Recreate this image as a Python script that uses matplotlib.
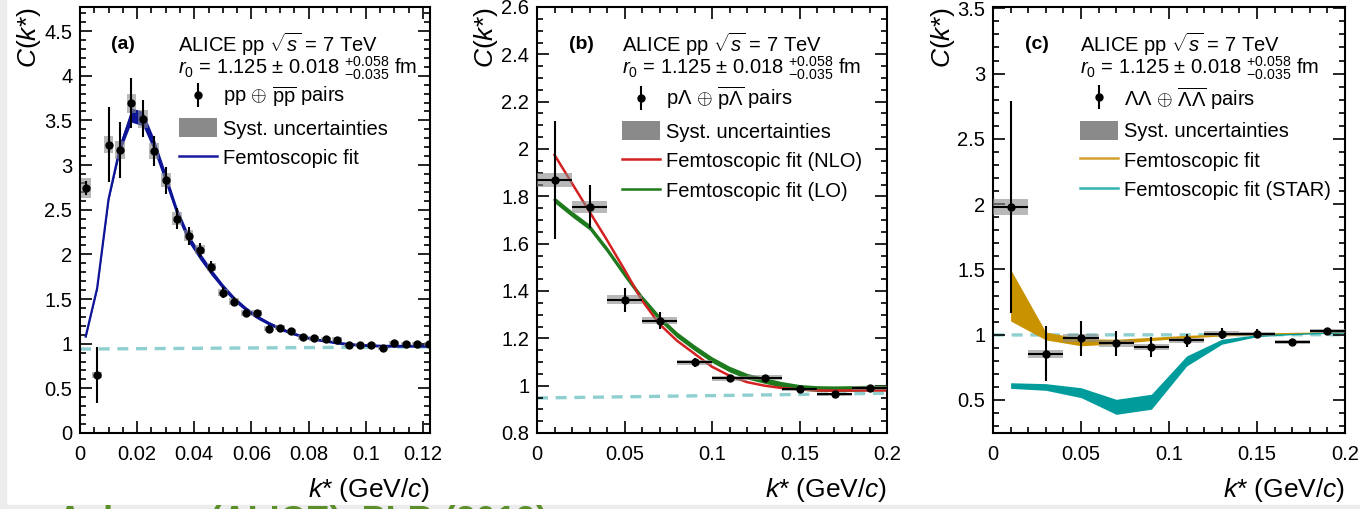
import matplotlib
matplotlib.use('Agg')
import matplotlib.pyplot as plt
from matplotlib.lines import Line2D
from matplotlib.patches import Patch, Rectangle
from matplotlib.legend_handler import HandlerTuple
from matplotlib.ticker import MultipleLocator

plt.rcParams['font.family'] = ['Liberation Sans', 'DejaVu Sans']
plt.rcParams['mathtext.fontset'] = 'custom'
plt.rcParams['mathtext.rm'] = 'Liberation Sans'
plt.rcParams['mathtext.it'] = 'Liberation Sans:italic'
plt.rcParams['mathtext.bf'] = 'Liberation Sans:bold'

# ---- p-p correlation function ----
k_pp = [0.002, 0.006, 0.010, 0.014, 0.018, 0.022, 0.026, 0.030, 0.034, 0.038,
        0.042, 0.046, 0.050, 0.054, 0.058, 0.062, 0.066, 0.070, 0.074, 0.078,
        0.082, 0.086, 0.090, 0.094, 0.098, 0.102, 0.106, 0.110, 0.114, 0.118, 0.122]
c_pp = [2.74, 0.65, 3.23, 3.17, 3.69, 3.52, 3.16, 2.83, 2.40, 2.21,
        2.05, 1.86, 1.57, 1.47, 1.34, 1.34, 1.17, 1.18, 1.14, 1.07,
        1.06, 1.055, 1.045, 0.98, 0.98, 0.99, 0.95, 1.005, 1.0, 0.995, 0.995]
stat_pp = [0.08, 0.31, 0.42, 0.31, 0.28, 0.21, 0.17, 0.15, 0.12, 0.10,
           0.08, 0.07, 0.06, 0.05, 0.045, 0.04, 0.035, 0.03, 0.03, 0.025,
           0.025, 0.02, 0.02, 0.02, 0.02, 0.02, 0.02, 0.02, 0.02, 0.02, 0.02]
syst_pp = [0.11, 0.03, 0.10, 0.10, 0.11, 0.10, 0.09, 0.08, 0.07, 0.06,
           0.05, 0.045, 0.04, 0.04, 0.035, 0.035, 0.03, 0.03, 0.03, 0.025,
           0.025, 0.025, 0.025, 0.02, 0.02, 0.02, 0.02, 0.02, 0.02, 0.02, 0.02]
fit_pp = [1.08, 1.62, 2.62, 3.20, 3.56, 3.52, 3.22, 2.85, 2.47, 2.18,
          1.98, 1.80, 1.64, 1.50, 1.39, 1.30, 1.23, 1.17, 1.12, 1.08,
          1.05, 1.03, 1.01, 0.995, 0.985, 0.98, 0.975, 0.975, 0.975, 0.975, 0.975]
fit_pp_w = [0.012, 0.012, 0.02, 0.05, 0.08, 0.08, 0.07, 0.06, 0.05, 0.045,
            0.04, 0.035, 0.03, 0.028, 0.025, 0.022, 0.02, 0.018, 0.016, 0.015,
            0.014, 0.014, 0.014, 0.014, 0.014, 0.014, 0.014, 0.014, 0.014, 0.014, 0.014]
base_pp_k = [0.0, 0.1225]
base_pp = [0.94, 0.965]

# ---- p-Lambda correlation function ----
k_pl = [0.01, 0.03, 0.05, 0.07, 0.09, 0.11, 0.13, 0.15, 0.17, 0.19]
c_pl = [1.87, 1.756, 1.363, 1.275, 1.098, 1.031, 1.034, 0.984, 0.963, 0.991]
stat_pl = [0.25, 0.09, 0.05, 0.035, 0.02, 0.015, 0.012, 0.01, 0.01, 0.01]
syst_pl = [0.03, 0.025, 0.02, 0.015, 0.012, 0.01, 0.01, 0.008, 0.008, 0.008]
k_pl_fit = [0.01, 0.02, 0.03, 0.04, 0.05, 0.06, 0.07, 0.08, 0.09, 0.10,
            0.11, 0.12, 0.13, 0.14, 0.15, 0.16, 0.17, 0.18, 0.19, 0.20]
nlo_pl = [1.975, 1.855, 1.735, 1.615, 1.49, 1.36, 1.26, 1.19, 1.135, 1.08,
          1.042, 1.015, 1.0, 0.99, 0.984, 0.98, 0.979, 0.98, 0.98, 0.98]
lo_pl = [1.785, 1.725, 1.67, 1.575, 1.47, 1.37, 1.285, 1.215, 1.16, 1.11,
         1.07, 1.04, 1.022, 1.005, 0.993, 0.988, 0.987, 0.988, 0.99, 0.99]
base_pl_k = [0.0, 0.2]
base_pl = [0.948, 0.968]

# ---- Lambda-Lambda correlation function ----
k_ll = [0.01, 0.03, 0.05, 0.07, 0.09, 0.11, 0.13, 0.15, 0.17, 0.19]
c_ll = [1.978, 0.855, 0.972, 0.934, 0.906, 0.957, 1.008, 1.008, 0.944, 1.028]
stat_ll = [0.81, 0.21, 0.135, 0.095, 0.075, 0.05, 0.04, 0.035, 0.025, 0.025]
syst_ll = [0.06, 0.03, 0.03, 0.025, 0.02, 0.02, 0.02, 0.015, 0.015, 0.015]
k_ll_fit = [0.01, 0.03, 0.05, 0.07, 0.09, 0.11, 0.13, 0.15, 0.17, 0.19, 0.20]
fit_ll_lo = [1.105, 0.96, 0.915, 0.93, 0.955, 0.975, 0.99, 0.998, 1.005, 1.012, 1.014]
fit_ll_hi = [1.50, 1.02, 0.97, 0.965, 0.98, 0.995, 1.005, 1.012, 1.018, 1.022, 1.024]
star_ll_lo = [0.589, 0.574, 0.518, 0.39, 0.429, 0.76, 0.927, 0.985, 1.0, 1.01, 1.012]
star_ll_hi = [0.632, 0.625, 0.594, 0.505, 0.544, 0.837, 0.965, 1.0, 1.01, 1.02, 1.022]
base_ll_k = [0.0, 0.2]
base_ll = [0.998, 1.0]

SYST_COLOR = '#8a8a8a'
BASE_COLOR = '#8fcfcf'
FS_TICK = 14.5
FS_LEG = 14.5
FS_TITLE = 19

W, H = 1360, 509
fig = plt.figure(figsize=(W / 100, H / 100), dpi=100)
fig.patch.set_facecolor('white')

# light grey page border on the left and bottom
fig.patches.append(Rectangle((0, 0), 6 / W, 1, transform=fig.transFigure,
                             color='#ececec', zorder=0))
fig.patches.append(Rectangle((0, 0), 1, 4 / H, transform=fig.transFigure,
                             color='#ececec', zorder=0))


def add_axes_px(x0, x1, y0=7, y1=433):
    return fig.add_axes([x0 / W, 1 - y1 / H, (x1 - x0) / W, (y1 - y0) / H])


def style_axes(ax, xmaj, xmin, ymaj, ymin, ylab_x):
    ax.xaxis.set_major_locator(MultipleLocator(xmaj))
    ax.xaxis.set_minor_locator(MultipleLocator(xmin))
    ax.yaxis.set_major_locator(MultipleLocator(ymaj))
    ax.yaxis.set_minor_locator(MultipleLocator(ymin))
    ax.tick_params(which='both', direction='in', top=True, right=True,
                   width=1.2, labelsize=FS_TICK)
    ax.tick_params(which='major', length=8.5)
    ax.tick_params(which='minor', length=4.3)
    ax.tick_params(axis='x', pad=8.5)
    ax.tick_params(axis='y', pad=5.5)
    for s in ax.spines.values():
        s.set_linewidth(1.5)
    ax.xaxis.set_major_formatter(plt.FuncFormatter(lambda v, p: f'{v:g}'))
    ax.yaxis.set_major_formatter(plt.FuncFormatter(lambda v, p: f'{v:g}'))
    ax.set_xlabel(r'$k$* (GeV/$c$)', fontsize=FS_TITLE, loc='right')
    ax.xaxis.set_label_coords(1.0, -0.10)
    ax.set_ylabel(r'$C$($k$*)', fontsize=FS_TITLE, loc='top')
    ax.yaxis.set_label_coords(ylab_x, 1.0)


def header(ax, label, x_txt, x_lab):
    ax.text(x_lab, 0.913, label, transform=ax.transAxes, fontsize=14,
            fontweight='bold', ha='center', va='center')
    ax.text(x_txt, 0.913, r'ALICE pp $\sqrt{s}$ = 7 TeV', transform=ax.transAxes,
            fontsize=FS_LEG, ha='left', va='center')
    ax.text(x_txt, 0.855, r'$r_{0}$ = 1.125 $\pm$ 0.018 ${}^{+0.058}_{-0.035}$ fm',
            transform=ax.transAxes, fontsize=FS_LEG, ha='left', va='center')


def data_handle():
    bar = Line2D([], [], marker='|', ms=17, mew=1.5, color='k', ls='none')
    dot = Line2D([], [], marker='o', ms=5, color='k', ls='none')
    return (bar, dot)


def add_legend(ax, x_leg, handles, labels):
    ax.legend(handles, labels, loc='upper left', bbox_to_anchor=(x_leg, 0.818),
              frameon=False, fontsize=FS_LEG, borderpad=0, borderaxespad=0,
              handlelength=1.9, handleheight=1.1, handletextpad=0.3,
              labelspacing=0.45,
              handler_map={tuple: HandlerTuple(ndivide=1, pad=0)})


# ---------------- panel (a): p-p ----------------
ax = add_axes_px(80, 430)
ax.set_xlim(0, 0.1225)
ax.set_ylim(0, 4.77)
ax.plot(base_pp_k, base_pp, ls=(0, (3.3, 2.3)), lw=2.4, color=BASE_COLOR, zorder=1)
lo = [f - w for f, w in zip(fit_pp, fit_pp_w)]
hi = [f + w for f, w in zip(fit_pp, fit_pp_w)]
ax.fill_between(k_pp, lo, hi, color='#0d1596', lw=0, zorder=2)
ax.plot(k_pp, fit_pp, color='#0d1596', lw=1.6, zorder=2)
ax.bar(k_pp, [2 * s for s in syst_pp], bottom=[c - s for c, s in zip(c_pp, syst_pp)],
       width=0.0034, color=SYST_COLOR, alpha=0.6, lw=0, zorder=3)
ax.errorbar(k_pp, c_pp, yerr=stat_pp, fmt='o', color='k', ms=5, elinewidth=1.5,
            capsize=0, zorder=4)
style_axes(ax, 0.02, 0.005, 0.5, 0.1, -0.106)
header(ax, '(a)', 0.28, 0.123)
add_legend(ax, 0.283,
           [data_handle(), Patch(color=SYST_COLOR, lw=0),
            Line2D([], [], color='#1a1aa0', lw=1.8)],
           [r'pp $\oplus$ $\overline{\mathrm{pp}}$ pairs', 'Syst. uncertainties',
            'Femtoscopic fit'])

# ---------------- panel (b): p-Lambda ----------------
ax = add_axes_px(537, 887)
ax.set_xlim(0, 0.2)
ax.set_ylim(0.8, 2.6)
ax.plot(base_pl_k, base_pl, ls=(0, (3.3, 2.3)), lw=2.4, color=BASE_COLOR, zorder=1)
ax.fill_between(k_pl_fit, [v - 0.012 for v in lo_pl], [v + 0.012 for v in lo_pl],
                color='#1d7a1d', lw=0, zorder=2)
ax.plot(k_pl_fit, lo_pl, color='#1d7a1d', lw=1.5, zorder=2)
ax.plot(k_pl_fit, nlo_pl, color='#d42020', lw=1.8, zorder=2.5)
ax.bar(k_pl, [2 * s for s in syst_pl], bottom=[c - s for c, s in zip(c_pl, syst_pl)],
       width=0.02, color=SYST_COLOR, alpha=0.6, lw=0, zorder=3)
ax.errorbar(k_pl, c_pl, yerr=stat_pl, xerr=0.01, fmt='o', color='k', ms=5,
            elinewidth=1.5, capsize=0, zorder=4)
style_axes(ax, 0.05, 0.01, 0.2, 0.05, -0.106)
header(ax, '(b)', 0.243, 0.128)
add_legend(ax, 0.243,
           [data_handle(), Patch(color=SYST_COLOR, lw=0),
            Line2D([], [], color='#d42020', lw=1.8),
            Line2D([], [], color='#1d7a1d', lw=1.8)],
           [r'p$\Lambda$ $\oplus$ $\overline{\mathrm{p}\Lambda}$ pairs',
            'Syst. uncertainties', 'Femtoscopic fit (NLO)', 'Femtoscopic fit (LO)'])

# ---------------- panel (c): Lambda-Lambda ----------------
ax = add_axes_px(993, 1345)
ax.set_xlim(0, 0.2)
ax.set_ylim(0.247, 3.51)
ax.plot(base_ll_k, base_ll, ls=(0, (3.3, 2.3)), lw=2.4, color=BASE_COLOR, zorder=1)
ax.fill_between(k_ll_fit, fit_ll_lo, fit_ll_hi, color='#c99300', lw=0, zorder=2)
ax.fill_between(k_ll_fit, star_ll_lo, star_ll_hi, color='#009c9c', lw=0, zorder=2)
ax.bar(k_ll, [2 * s for s in syst_ll], bottom=[c - s for c, s in zip(c_ll, syst_ll)],
       width=0.02, color=SYST_COLOR, alpha=0.6, lw=0, zorder=3)
ax.errorbar(k_ll, c_ll, yerr=stat_ll, xerr=0.01, fmt='o', color='k', ms=5,
            elinewidth=1.5, capsize=0, zorder=4)
style_axes(ax, 0.05, 0.01, 0.5, 0.1, -0.102)
header(ax, '(c)', 0.247, 0.125)
add_legend(ax, 0.247,
           [data_handle(), Patch(color=SYST_COLOR, lw=0),
            Line2D([], [], color='#d4a030', lw=1.8),
            Line2D([], [], color='#33b3b3', lw=1.8)],
           [r'$\Lambda\Lambda$ $\oplus$ $\overline{\Lambda\Lambda}$ pairs',
            'Syst. uncertainties', 'Femtoscopic fit', 'Femtoscopic fit (STAR)'])

# reference line, mostly below the bottom edge of the page
fig.text(57 / W, 1 - 505 / H, 'Acharya (ALICE), PLB (2019)', fontsize=26,
         fontweight='bold', color='#5b8f29', ha='left', va='top')

fig.savefig('out.png', dpi=100)
